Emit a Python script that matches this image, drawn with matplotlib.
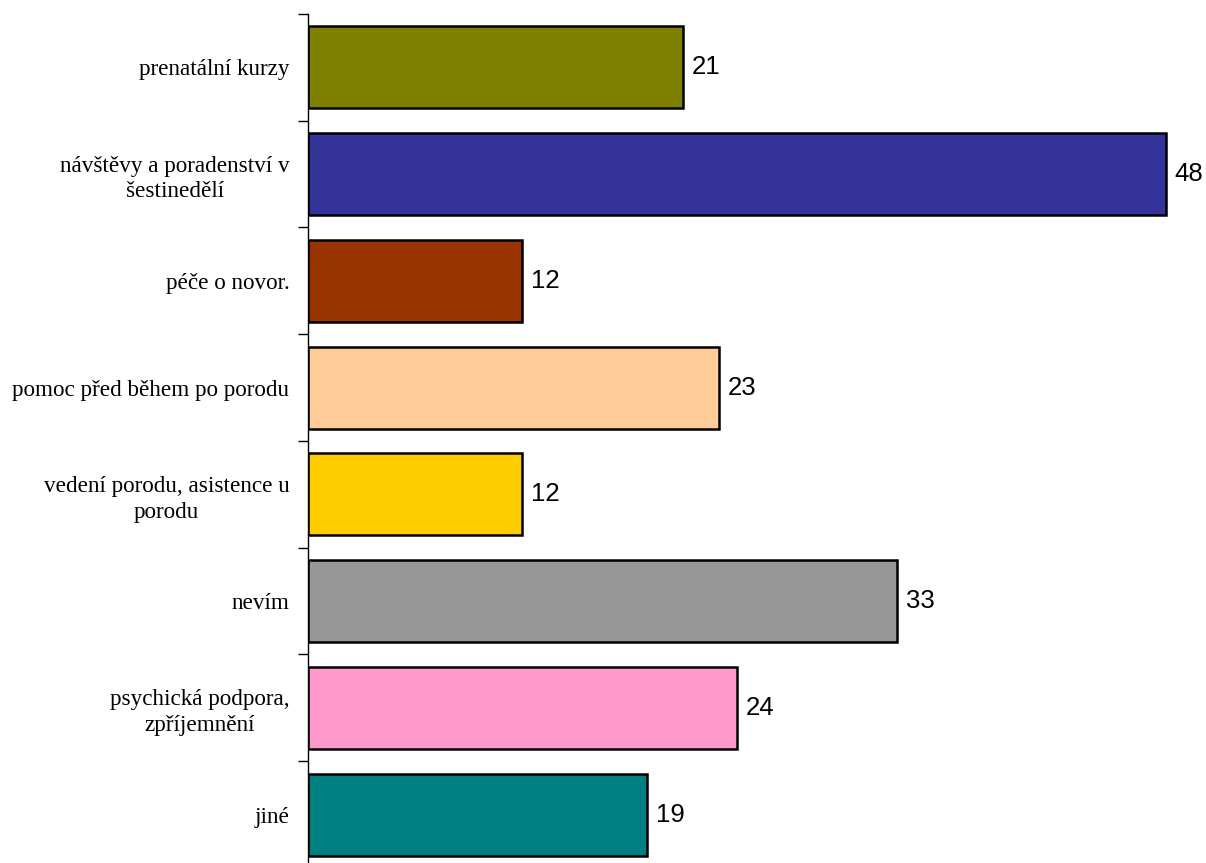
import numpy as np
import matplotlib.pyplot as plt

# categories top to bottom
categories = ['prenatální kurzy', 'návštěvy a poradenství v\nšestinedělí', 'péče o novor.',
              'pomoc před během po porodu', 'vedení porodu, asistence u\nporodu', 'nevím',
              'psychická podpora,\nzpříjemnění', 'jiné']
values = [21, 48, 12, 23, 12, 33, 24, 19]
colors = ['#808000', '#333399', '#993300', '#FFCC99', '#FFCC00', '#969696', '#FF99CC', '#008080']

fig = plt.figure(figsize=(12.06, 8.63), dpi=100)
ax = fig.add_axes([307.5/1206, -5/863, 893.75/1206, 854/863])

y = np.arange(len(categories))
ax.barh(y, values, height=0.77, color=colors, edgecolor='black', linewidth=1.8)
for yi, v in zip(y, values):
    ax.text(v + 0.5, yi, str(v), va='center', ha='left', fontsize=18.5, family='Liberation Sans')

ax.set_xlim(0, 50)
ax.set_ylim(len(categories) - 0.5, -0.5)
ax.set_yticks(y)
ax.set_yticklabels(categories, family='Liberation Serif', fontsize=16.7, multialignment='center',
                   linespacing=1.3)
ax.tick_params(axis='y', which='major', length=0, pad=13)
ax.set_yticks(np.arange(len(categories) + 1) - 0.5, minor=True)
ax.tick_params(axis='y', which='minor', length=7, width=1, color='black')
ax.set_xticks([])
for s in ['top', 'right', 'bottom']:
    ax.spines[s].set_visible(False)
ax.spines['left'].set_linewidth(1)

plt.savefig('out.png', dpi=100)
